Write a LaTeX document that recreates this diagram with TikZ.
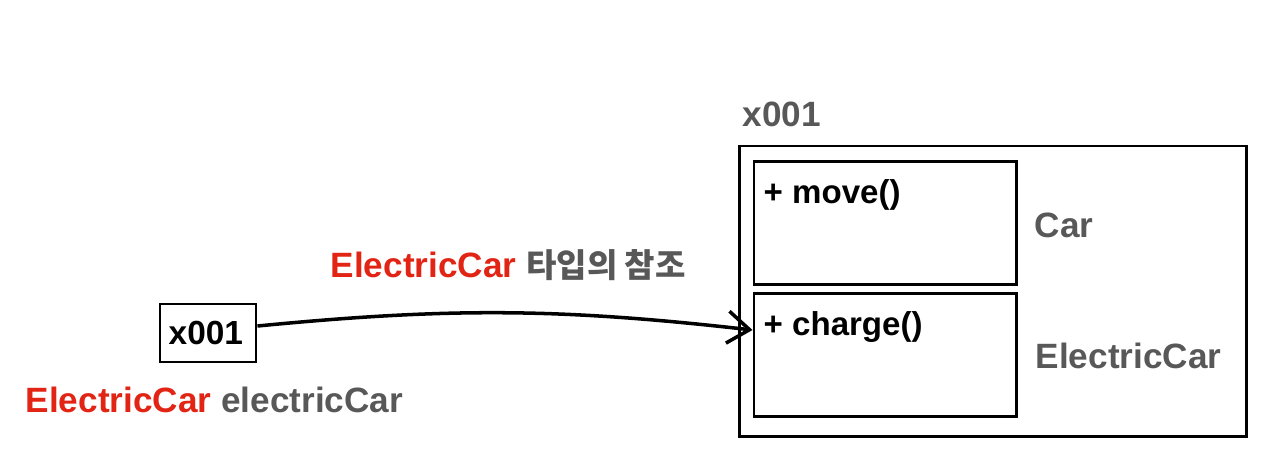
\documentclass[tikz,border=0pt]{standalone}
\usepackage{fontspec}
\setmainfont{Liberation Sans}
\newfontfamily\krfont{Noto Sans CJK KR}[Scale=0.94]
\definecolor{refred}{RGB}{226,36,21}
\definecolor{labelgray}{RGB}{88,88,88}
\usetikzlibrary{positioning, arrows.meta}

\begin{document}
\begin{tikzpicture}[x=0.01cm, y=-0.01cm,
  membox/.style={draw, line width=0.8pt, inner sep=0pt, minimum width=2.62cm,
    minimum height=1.23cm},
  objbox/.style={draw, line width=0.8pt, inner sep=0pt, minimum width=5.06cm,
    minimum height=2.9cm},
  reftext/.style={font=\fontsize{10}{12}\selectfont\bfseries, inner sep=0pt,
    anchor=base west},
  memtext/.style={font=\fontsize{9.4}{11}\selectfont\bfseries, inner sep=0pt,
    anchor=base west},
]
\useasboundingbox (0,0) rectangle (1280,454);

% Object in memory
\node[objbox] (obj) at (993,291) {};
\node[reftext, text=labelgray] (addr) at (742,126) {x001};
\node[membox] (carbox) at (885,223) {};
\node[membox] (ecarbox) at (885,355) {};
\node[memtext] (move) at (763,203) {+ move()};
\node[memtext] (charge) at (763,335) {+ charge()};
\node[reftext, text=labelgray] (car) at (1034,237) {Car};
\node[reftext, text=labelgray] (ecar) at (1035,368) {ElectricCar};

% Reference variable
\node[draw, line width=0.8pt, minimum width=0.96cm, minimum height=0.58cm,
  inner sep=0pt] (ref) at (208,333) {};
\node[memtext, font=\fontsize{9.5}{11}\selectfont\bfseries] (refval) at (168,344) {x001};
\node[reftext] (var) at (25,412) {\textcolor{refred}{ElectricCar}
  \textcolor{labelgray}{electricCar}};

% Arrow
\coordinate (hit) at (ecarbox.west |- 0,330);
\node[reftext] (arrowlabel) at (330,277) {\textcolor{refred}{ElectricCar}
  \textcolor{labelgray}{\krfont\bfseries 타입의 참조}};
\draw[-{Straight Barb[length=2.2mm, width=3.2mm]}, line width=1pt]
  ([yshift=0.07cm]ref.east) to[bend left=6] (hit);
\end{tikzpicture}
\end{document}
